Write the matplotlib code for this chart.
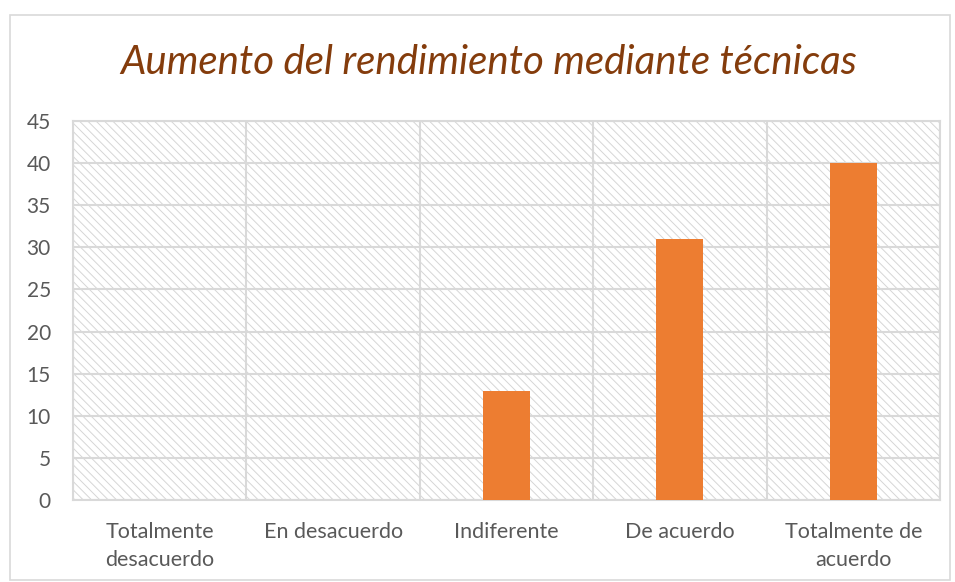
import numpy as np
import matplotlib.pyplot as plt
from matplotlib.patches import Rectangle

categories = ["Totalmente\ndesacuerdo", "En desacuerdo", "Indiferente",
              "De acuerdo", "Totalmente de\nacuerdo"]
values = [0, 0, 13, 31, 40]
yticks = [0, 5, 10, 15, 20, 25, 30, 35, 40, 45]
title = "Aumento del rendimiento mediante técnicas"

grid_col = "#d9d9d9"
text_col = "#595959"

plt.rcParams['font.family'] = ['Lato', 'DejaVu Sans']
plt.rcParams['hatch.color'] = "#d6d6d6"
plt.rcParams['hatch.linewidth'] = 0.7

fig = plt.figure(figsize=(9.55, 5.82), dpi=100)
ax = fig.add_axes([73/955, 1 - 500/582, (940-73)/955, (500-121)/582])

# outer frame of the chart object
fig.patches.append(Rectangle((10/955, 2/582), 940/955, 565/582, transform=fig.transFigure,
                             fill=False, edgecolor=grid_col, linewidth=1.2))

# hatched plot area
ax.patch.set_facecolor("white")
ax.patch.set_hatch("\\" * 4)
ax.patch.set_edgecolor("#d6d6d6")

x = np.arange(len(categories))
ax.bar(x, values, width=0.27, color="#ED7D31", zorder=3)

ax.set_xlim(-0.5, len(categories) - 0.5)
ax.set_ylim(0, 45)
ax.set_yticks(yticks)
ax.set_xticks(x)
ax.set_xticklabels(categories, fontsize=15.5, color=text_col, linespacing=1.5)
ax.set_xticks(np.arange(len(categories) + 1) - 0.5, minor=True)
ax.tick_params(axis='y', labelsize=15, labelcolor=text_col, length=0, pad=16)
ax.tick_params(axis='x', which='both', length=0, pad=16)

ax.grid(axis='y', color=grid_col, linewidth=1.5, zorder=1)
ax.grid(axis='x', which='minor', color=grid_col, linewidth=1.5, zorder=1)
ax.set_axisbelow(True)
for s in ax.spines.values():
    s.set_color(grid_col)
    s.set_linewidth(1.5)

fig.text(489/955, 1 - 62/582, title, ha='center', va='center', fontsize=29,
         style='italic', color="#843C0C")

fig.savefig("out.png", dpi=100)
